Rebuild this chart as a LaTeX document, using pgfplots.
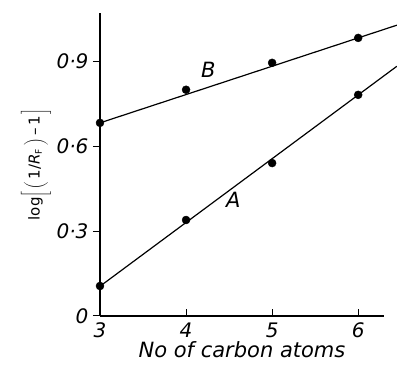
\documentclass[border=0pt]{standalone}
\usepackage{fontspec}
\setmainfont{DejaVu Sans}
\usepackage{pgfplots}
\pgfplotsset{compat=1.18}
\begin{document}
\begin{tikzpicture}
\begin{axis}[
  scale only axis, width=284pt, height=303pt,
  xmin=3, xmax=6.3, ymin=0, ymax=1.07,
  axis lines=left, axis line style={line width=1.1pt, -},
  clip=false,
  xtick={3,4,5,6}, xticklabels={3,4,5,6},
  ytick={0,0.3,0.6,0.9}, yticklabels={0,0·3,0·6,0·9},
  tick style={line width=1pt, black},
  major tick length=7pt,
  xtick align=inside, ytick align=outside,
  ticklabel style={font=\itshape\fontsize{20}{20}\selectfont},
  xticklabel style={yshift=-3pt},
  yticklabel style={xshift=-1pt},
  xlabel={No of carbon atoms},
  xlabel style={font=\itshape\fontsize{21}{21}\selectfont, yshift=3pt},
]
\coordinate (O) at (rel axis cs:0,0);
\addplot[no marks, line width=1.2pt] coordinates {(3,0.105) (6.45,0.882)};
\addplot[no marks, line width=1.2pt] coordinates {(3,0.682) (6.45,1.027)};
\addplot[only marks, mark=*, mark size=4pt] coordinates {(3,0.106) (4,0.339) (5,0.540) (6,0.781)};
\addplot[only marks, mark=*, mark size=4pt] coordinates {(3,0.682) (4,0.799) (5,0.894) (6,0.982)};
\node[font=\itshape\fontsize{21}{21}\selectfont] at (axis cs:4.55,0.41) {A};
\node[font=\itshape\fontsize{21}{21}\selectfont] at (axis cs:4.26,0.87) {B};
\node[rotate=90, font=\fontsize{15}{15}\selectfont, inner sep=0pt] at ([xshift=-64pt]axis cs:3,0.535)
  {log$\left[\rule[-8pt]{0pt}{25pt}\left(\rule[-5pt]{0pt}{19pt}\right.\right.$1/{\itshape R}$_{\mbox{\fontsize{9}{9}\selectfont F}}\left.\rule[-5pt]{0pt}{19pt}\right)$\,–\,1$\left.\rule[-8pt]{0pt}{25pt}\right]$};
\end{axis}
\pgfresetboundingbox
\path[use as bounding box] ([shift={(-100pt,-53pt)}]O) rectangle ([shift={(297pt,316pt)}]O);
\end{tikzpicture}
\end{document}
